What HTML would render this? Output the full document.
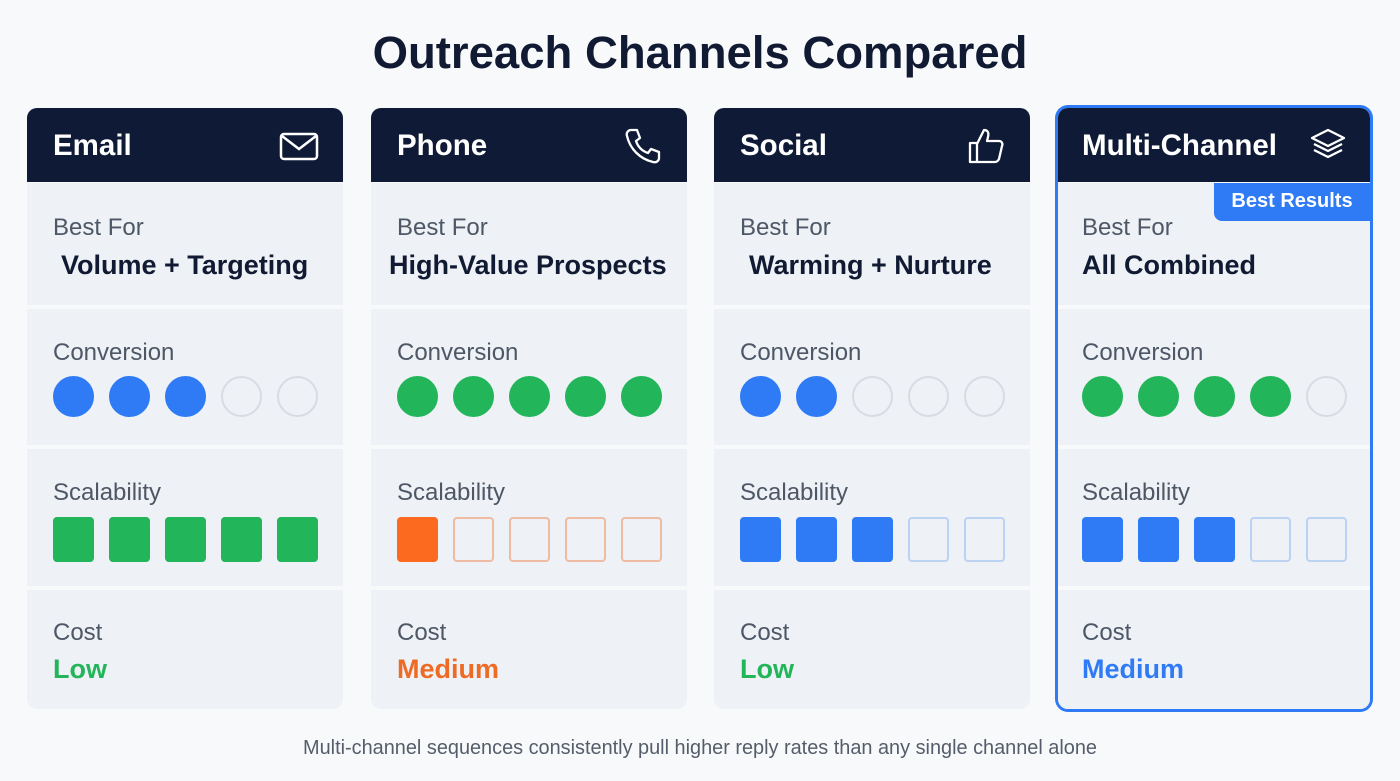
<!DOCTYPE html>
<html><head><meta charset="utf-8"><style>
*{margin:0;padding:0;box-sizing:border-box}
body{width:1400px;height:781px;background:#f8f9fb;font-family:"Liberation Sans",sans-serif;position:relative;overflow:hidden}
.title{position:absolute;top:27px;left:0;width:1400px;text-align:center;font-size:45.5px;font-weight:bold;color:#111a33}
.card{position:absolute;top:108px;width:316px;height:601px;border-radius:10px;background:#f8f9fb}
.hd{position:absolute;left:0;top:0;width:100%;height:74px;background:#0f1a36;border-radius:10px 10px 0 0;color:#fff;font-size:29.5px;font-weight:bold;padding:21px 0 0 26px}
.sec{position:absolute;left:0;width:100%;background:#eef1f5}
.lab{position:absolute;left:26px;font-size:24px;color:#4d5766}
.val{position:absolute;font-size:27px;font-weight:bold;color:#111a33}
.row{position:absolute;left:26px;display:flex;gap:15px}
.c{width:41px;height:41px;border-radius:50%;background:transparent;border:2px solid #d8dce2}
.s{width:41px;height:45px;border-radius:4px}
.ico{position:absolute;right:24px;top:18px}
</style></head><body>
<div class="title">Outreach Channels Compared</div>

<div class="card" style="left:27px">
<div class="hd">Email</div>
<svg class="ico" width="40" height="40" viewBox="0 0 40 40"><rect x="2" y="8" width="36" height="25" rx="3" fill="none" stroke="#fff" stroke-width="2.5"/><path d="M3 10 L20 23 L37 10" fill="none" stroke="#fff" stroke-width="2.5"/></svg>
<div class="sec" style="top:75px;height:122px;"><div class="lab" style="top:31px">Best For</div><div class="val" style="left:34px;top:67px">Volume + Targeting</div></div>
<div class="sec" style="top:201px;height:136px"><div class="lab" style="top:30px">Conversion</div><div class="row" style="top:67px"><div class="c" style="background:#2f7bf5;border-color:#2f7bf5"></div><div class="c" style="background:#2f7bf5;border-color:#2f7bf5"></div><div class="c" style="background:#2f7bf5;border-color:#2f7bf5"></div><div class="c"></div><div class="c"></div></div></div>
<div class="sec" style="top:341px;height:137px"><div class="lab" style="top:30px">Scalability</div><div class="row" style="top:68px"><div class="s" style="background:#22b55a"></div><div class="s" style="background:#22b55a"></div><div class="s" style="background:#22b55a"></div><div class="s" style="background:#22b55a"></div><div class="s" style="background:#22b55a"></div></div></div>
<div class="sec" style="top:482px;height:119px;border-radius:0 0 10px 10px"><div class="lab" style="top:29px">Cost</div><div class="val" style="left:26px;top:64px;color:#22b55a">Low</div></div>
</div>

<div class="card" style="left:371px">
<div class="hd">Phone</div>
<svg class="ico" width="40" height="40" viewBox="0 0 40 40"><path d="M8 4 L14 4 L17 12 L13 15 C15 21 19 25 25 27 L28 23 L36 26 L36 32 C36 35 33 37 30 36 C17 33 7 23 4 10 C3 7 5 4 8 4 Z" fill="none" stroke="#fff" stroke-width="2.3" stroke-linejoin="round"/></svg>
<div class="sec" style="top:75px;height:122px;"><div class="lab" style="top:31px">Best For</div><div class="val" style="left:18px;top:67px">High-Value Prospects</div></div>
<div class="sec" style="top:201px;height:136px"><div class="lab" style="top:30px">Conversion</div><div class="row" style="top:67px"><div class="c" style="background:#22b55a;border-color:#22b55a"></div><div class="c" style="background:#22b55a;border-color:#22b55a"></div><div class="c" style="background:#22b55a;border-color:#22b55a"></div><div class="c" style="background:#22b55a;border-color:#22b55a"></div><div class="c" style="background:#22b55a;border-color:#22b55a"></div></div></div>
<div class="sec" style="top:341px;height:137px"><div class="lab" style="top:30px">Scalability</div><div class="row" style="top:68px"><div class="s" style="background:#fb6a1e"></div><div class="s" style="border:2px solid #f0bba3"></div><div class="s" style="border:2px solid #f0bba3"></div><div class="s" style="border:2px solid #f0bba3"></div><div class="s" style="border:2px solid #f0bba3"></div></div></div>
<div class="sec" style="top:482px;height:119px;border-radius:0 0 10px 10px"><div class="lab" style="top:29px">Cost</div><div class="val" style="left:26px;top:64px;color:#ee6a25">Medium</div></div>
</div>

<div class="card" style="left:714px">
<div class="hd">Social</div>
<svg class="ico" width="40" height="40" viewBox="0 0 40 40"><path d="M4 17 H11 V36 H4 Z M11 18 L18 4 C22 4 23 7 22 11 L21 15 H33 C36 15 37 18 36 20 L33 33 C32 35 31 36 29 36 H11" fill="none" stroke="#fff" stroke-width="2.3" stroke-linejoin="round"/></svg>
<div class="sec" style="top:75px;height:122px;"><div class="lab" style="top:31px">Best For</div><div class="val" style="left:35px;top:67px">Warming + Nurture</div></div>
<div class="sec" style="top:201px;height:136px"><div class="lab" style="top:30px">Conversion</div><div class="row" style="top:67px"><div class="c" style="background:#2f7bf5;border-color:#2f7bf5"></div><div class="c" style="background:#2f7bf5;border-color:#2f7bf5"></div><div class="c"></div><div class="c"></div><div class="c"></div></div></div>
<div class="sec" style="top:341px;height:137px"><div class="lab" style="top:30px">Scalability</div><div class="row" style="top:68px"><div class="s" style="background:#2f7bf5"></div><div class="s" style="background:#2f7bf5"></div><div class="s" style="background:#2f7bf5"></div><div class="s" style="border:2px solid #bcd2f3"></div><div class="s" style="border:2px solid #bcd2f3"></div></div></div>
<div class="sec" style="top:482px;height:119px;border-radius:0 0 10px 10px"><div class="lab" style="top:29px">Cost</div><div class="val" style="left:26px;top:64px;color:#22b55a">Low</div></div>
</div>

<div class="card" style="left:1058px;width:312px;box-shadow:0 0 0 3px #2f7bf5">
<div class="hd" style="padding-left:24px">Multi-Channel</div>
<svg class="ico" width="40" height="40" viewBox="0 0 40 40" style="right:22px"><path d="M20 4 L36 12 L20 20 L4 12 Z" fill="none" stroke="#fff" stroke-width="2.3" stroke-linejoin="round"/><path d="M6 18 L20 25 L34 18 M6 24 L20 31 L34 24" fill="none" stroke="#fff" stroke-width="2.3" stroke-linejoin="round"/></svg>
<div class="sec" style="top:75px;height:122px;"><div class="lab" style="left:24px;top:31px">Best For</div><div class="val" style="left:24px;top:67px">All Combined</div>
<div style="position:absolute;right:0;top:0;width:156px;height:38px;background:#2f7bf5;border-radius:0 0 0 8px;color:#fff;font-weight:bold;font-size:20px;text-align:center;padding-top:7px">Best Results</div></div>
<div class="sec" style="top:201px;height:136px"><div class="lab" style="left:24px;top:30px">Conversion</div><div class="row" style="left:24px;top:67px"><div class="c" style="background:#22b55a;border-color:#22b55a"></div><div class="c" style="background:#22b55a;border-color:#22b55a"></div><div class="c" style="background:#22b55a;border-color:#22b55a"></div><div class="c" style="background:#22b55a;border-color:#22b55a"></div><div class="c"></div></div></div>
<div class="sec" style="top:341px;height:137px"><div class="lab" style="left:24px;top:30px">Scalability</div><div class="row" style="left:24px;top:68px"><div class="s" style="background:#2f7bf5"></div><div class="s" style="background:#2f7bf5"></div><div class="s" style="background:#2f7bf5"></div><div class="s" style="border:2px solid #bcd2f3"></div><div class="s" style="border:2px solid #bcd2f3"></div></div></div>
<div class="sec" style="top:482px;height:119px;border-radius:0 0 10px 10px"><div class="lab" style="left:24px;top:29px">Cost</div><div class="val" style="left:24px;top:64px;color:#2f7bf5">Medium</div></div>
</div>

<div style="position:absolute;top:737px;left:0;width:1400px;text-align:center;font-size:19.9px;color:#555d6b">Multi-channel sequences consistently pull higher reply rates than any single channel alone</div>
</body></html>
